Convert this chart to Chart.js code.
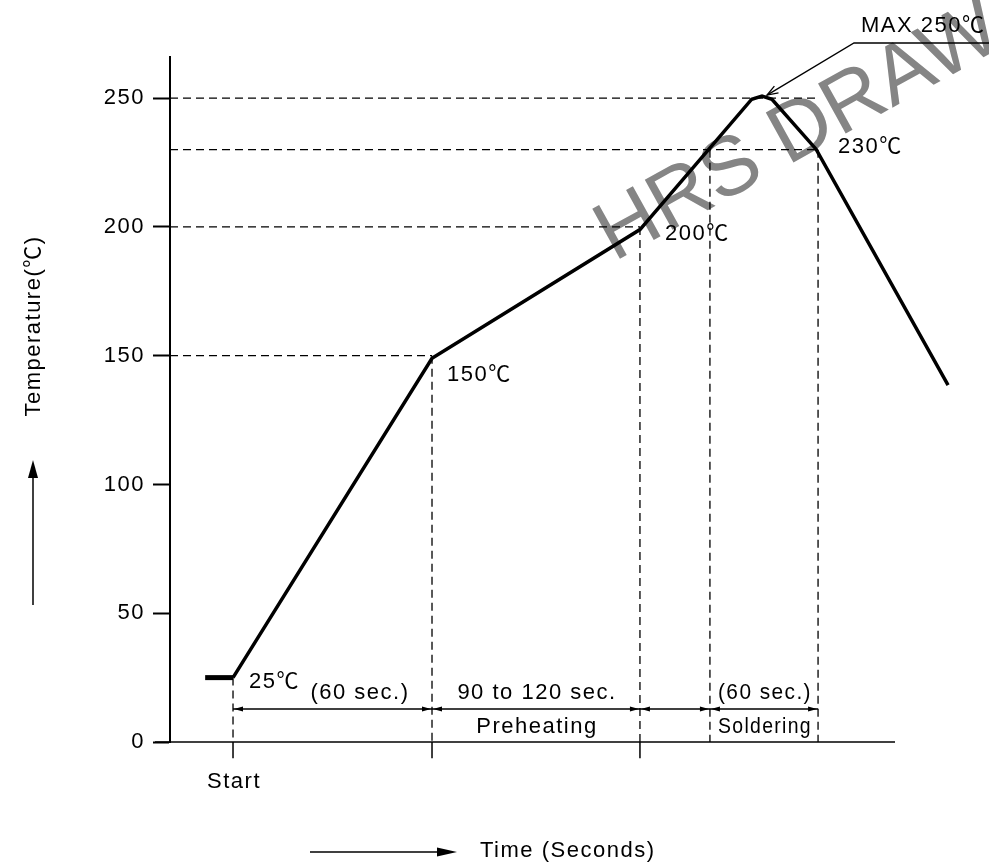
<!DOCTYPE html>
<html lang="en">
<head>
<meta charset="UTF-8">
<title>Reflow profile</title>
<script src="https://cdn.jsdelivr.net/npm/chart.js"></script>
<style>
  html, body { margin: 0; padding: 0; background: #fff; }
</style>
</head>
<body>
<canvas id="profileChart" width="989" height="863"></canvas>
<script>
// temperature profile (x = seconds, drawing is not to scale)
const profileTime = [-8.4, 0, 60, 122.7, 156.4, 159.5, 162.5, 175.8, 215.6];
const profileTemp = [25, 25, 149, 199, 249.6, 250.8, 249.6, 230.2, 138.6];

const yTicks = [0, 50, 100, 150, 200, 250];

// dashed guides
const hGuideTemps = [250, 230, 200, 150];
const hGuideEnds = [176.4, 176.4, 122.7, 60];
const vGuideTimes = [0, 60, 122.7, 143.8, 176.4];
const vGuideTops = [25, 150, 200, 230, 230];
const axisTickTimes = [0, 60, 122.7];

// dimension line under the curve
const spanBounds = [0, 60, 122.7, 143.8, 176.4];
const dimTemp = 12.8;

const FONT = "'Liberation Sans', 'Noto Sans CJK JP', sans-serif";
const xMin = -19, xMax = 199.6;

const pts = (xs, ys) => xs.map((x, i) => ({ x: x, y: ys[i] }));
const line = (data, width, dash) => ({
    data: data,
    borderColor: "#000",
    borderWidth: width,
    borderDash: dash || [],
    pointRadius: 0,
    fill: false,
    tension: 0,
    clip: false
});

const datasets = [];
datasets.push(line(pts(profileTime.slice(0, 2), profileTemp.slice(0, 2)), 5));
datasets.push(line(pts(profileTime.slice(1), profileTemp.slice(1)), 3.5));
hGuideTemps.forEach((v, i) => datasets.push(line([{ x: xMin, y: v }, { x: hGuideEnds[i], y: v }], 1.3, [8, 5])));
vGuideTimes.forEach((t, i) => datasets.push(line([{ x: t, y: vGuideTops[i] }, { x: t, y: 0 }], 1.3, [8, 5])));
axisTickTimes.forEach(t => datasets.push(line([{ x: t, y: 0 }, { x: t, y: -6.3 }], 1.5)));
datasets.push(line([{ x: spanBounds[0], y: dimTemp }, { x: spanBounds[spanBounds.length - 1], y: dimTemp }], 1.5));

function arrowHead(ctx, tipX, tipY, dx, dy, len, half, open) {
    // dx, dy: unit direction the arrow points to
    const bx = tipX - dx * len, by = tipY - dy * len;
    ctx.beginPath();
    ctx.moveTo(bx - dy * half, by + dx * half);
    ctx.lineTo(tipX, tipY);
    ctx.lineTo(bx + dy * half, by - dx * half);
    if (open) {
        ctx.stroke();
    } else {
        ctx.closePath();
        ctx.fill();
    }
}

const annotate = {
    id: "annotate",
    beforeDraw(chart) {
        chart.ctx.letterSpacing = "1.5px";
    },
    beforeDatasetsDraw(chart) {
        const ctx = chart.ctx;
        const area = chart.chartArea;
        const y0 = chart.scales.y.getPixelForValue(0);

        // watermark
        ctx.save();
        ctx.letterSpacing = "0px";
        ctx.translate(614, 262);
        ctx.rotate(-29 * Math.PI / 180);
        ctx.font = "83px " + FONT;
        ctx.fillStyle = "#858585";
        ctx.fillText("HRS DRAWING", 0, 0);
        ctx.restore();

        // x axis line
        ctx.save();
        ctx.strokeStyle = "#000";
        ctx.lineWidth = 1.5;
        ctx.beginPath();
        ctx.moveTo(area.left - 15, y0);
        ctx.lineTo(area.right, y0);
        ctx.stroke();
        ctx.restore();
    },
    afterDatasetsDraw(chart) {
        const ctx = chart.ctx;
        const px = v => chart.scales.x.getPixelForValue(v);
        const py = v => chart.scales.y.getPixelForValue(v);

        ctx.save();
        ctx.fillStyle = "#000";
        ctx.strokeStyle = "#000";
        ctx.font = "22px " + FONT;
        ctx.textBaseline = "alphabetic";

        // arrowheads on dimension line
        const yd = py(dimTemp);
        spanBounds.forEach((t, i) => {
            const x = px(t);
            if (i > 0) arrowHead(ctx, x - 1, yd, 1, 0, 9, 2.5);
            if (i < spanBounds.length - 1) arrowHead(ctx, x + 1, yd, -1, 0, 9, 2.5);
        });

        // point labels
        ctx.textAlign = "left";
        ctx.fillText("25℃", px(0) + 16, py(25) + 10);
        ctx.fillText("150℃", px(60) + 15, py(150) + 25);
        ctx.fillText("200℃", px(122.7) + 25, py(200) + 13);
        ctx.fillText("230℃", px(176.4) + 20, py(230) + 3);
        ctx.fillText("MAX 250℃", 861, 32);

        // span labels
        ctx.textAlign = "center";
        const mid1 = (px(60) + px(122.7)) / 2 + 1;
        const mid2 = (px(143.8) + px(176.4)) / 2 + 1;
        ctx.fillText("(60 sec.)", 360, 699);
        ctx.fillText("90 to 120 sec.", mid1, 699);
        ctx.fillText("Preheating", mid1, 733);
        ctx.fillText("(60 sec.)", mid2, 699, 94);
        ctx.fillText("Soldering", mid2, 733, 94);
        ctx.fillText("Start", px(0) + 1, 788);

        // MAX leader
        const tipX = px(159.5) + 5, tipY = py(250.8) - 1;
        ctx.lineWidth = 1.3;
        ctx.beginPath();
        ctx.moveTo(989, 43);
        ctx.lineTo(854, 43);
        ctx.lineTo(tipX, tipY);
        ctx.stroke();
        const lx = tipX - 854, ly = tipY - 43, ll = Math.hypot(lx, ly);
        arrowHead(ctx, tipX, tipY, lx / ll, ly / ll, 11, 4, true);

        // axis titles
        ctx.textAlign = "left";
        ctx.fillText("Time (Seconds)", 480, 857);
        ctx.lineWidth = 1.5;
        ctx.beginPath();
        ctx.moveTo(310, 852);
        ctx.lineTo(445, 852);
        ctx.stroke();
        arrowHead(ctx, 457, 852, 1, 0, 20, 4.5);

        ctx.beginPath();
        ctx.moveTo(33, 605);
        ctx.lineTo(33, 472);
        ctx.stroke();
        arrowHead(ctx, 33, 460, 0, -1, 18, 5);

        ctx.translate(40, 326);
        ctx.rotate(-Math.PI / 2);
        ctx.textAlign = "center";
        ctx.fillText("Temperature(℃)", 0, 0);
        ctx.restore();
    }
};

new Chart(document.getElementById("profileChart").getContext("2d"), {
    type: "line",
    data: { datasets: datasets },
    options: {
        responsive: false,
        animation: false,
        events: [],
        layout: { padding: { top: 57, right: 94, bottom: 121, left: 0 } },
        plugins: {
            legend: { display: false },
            tooltip: { enabled: false }
        },
        scales: {
            x: { type: "linear", min: xMin, max: xMax, display: false },
            y: {
                min: 0,
                max: 266,
                afterBuildTicks: s => { s.ticks = yTicks.map(v => ({ value: v })); },
                afterFit: s => { s.width = 170; },
                border: { display: true, color: "#000", width: 2 },
                grid: { drawOnChartArea: false, tickLength: 17, tickWidth: 2, tickColor: "#000" },
                ticks: { color: "#000", padding: 8, font: { family: FONT, size: 22 } }
            }
        }
    },
    plugins: [annotate]
});
</script>
</body>
</html>
